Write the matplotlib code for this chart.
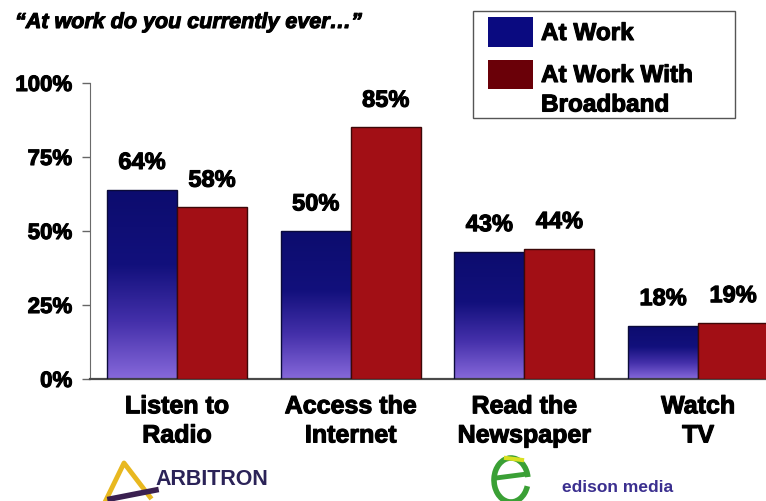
import numpy as np
import matplotlib
matplotlib.use('Agg')
import matplotlib.pyplot as plt
import matplotlib.patheffects as pe
from matplotlib.colors import LinearSegmentedColormap
from matplotlib.patches import Rectangle, Arc
from matplotlib.lines import Line2D

plt.rcParams['font.family'] = ['Liberation Sans', 'DejaVu Sans']
plt.rcParams['font.weight'] = 'bold'

# data
title = '\u201cAt work do you currently ever\u2026\u201d'
categories = ['Listen to\nRadio', 'Access the\nInternet', 'Read the\nNewspaper', 'Watch\nTV']
at_work = [64, 50, 43, 18]
at_work_bb = [58, 85, 44, 19]
series_names = ['At Work', 'At Work With\nBroadband']
y_ticks = [0, 25, 50, 75, 100]
y_labels = ['0%', '25%', '50%', '75%', '100%']

W, H = 766, 501
heavy = [pe.withStroke(linewidth=0.8, foreground='black')]


def fx(px):
    return px / W


def fy(py):
    return 1 - py / H


fig = plt.figure(figsize=(7.66, 5.01), dpi=100)
ax = fig.add_axes([fx(90), fy(379), (766 - 90) / W, (379 - 83) / H])

x = np.arange(len(categories))
w = 0.403

blue_cmap = LinearSegmentedColormap.from_list(
    'bluebar', [(0, '#0c0c6e'), (0.4, '#12107c'), (0.7, '#4430aa'), (1, '#8668da')])
grad = np.linspace(0, 1, 200).reshape(-1, 1)

blue_bars = ax.bar(x - w / 2, at_work, w, facecolor='none',
                   edgecolor='#0b0b3a', linewidth=1, zorder=3)
red_bars = ax.bar(x + w / 2, at_work_bb, w, color='#a20f15',
                  edgecolor='#3d0808', linewidth=1, zorder=3)

for bar in blue_bars:
    x0, h = bar.get_x(), bar.get_height()
    im = ax.imshow(grad, extent=[x0, x0 + bar.get_width(), 0, h],
                   aspect='auto', cmap=blue_cmap, zorder=2.5)
    im.set_clip_path(bar)

# value labels
for bars, vals in [(blue_bars, at_work), (red_bars, at_work_bb)]:
    for bar, v in zip(bars, vals):
        ax.annotate(f'{v}%', (bar.get_x() + bar.get_width() / 2, v),
                    xytext=(0, 19.5), textcoords='offset points',
                    ha='center', va='center', fontsize=17, fontweight='bold',
                    path_effects=heavy)

ax.set_xticks(x, categories)
ax.tick_params(axis='x', length=0, pad=11, labelsize=18)
for lab in ax.get_xticklabels():
    lab.set_linespacing(1.27)
    lab.set_path_effects(heavy)

ax.set_yticks(y_ticks, y_labels)
ax.tick_params(axis='y', length=5.8, width=1, color='#666666', pad=7, labelsize=16)
for lab in ax.get_yticklabels():
    lab.set_path_effects(heavy)

for s in ['top', 'right']:
    ax.spines[s].set_visible(False)
ax.spines['left'].set_color('#6a6a6a')
ax.spines['bottom'].set_color('#4a4a4a')
ax.spines['bottom'].set_linewidth(1.6)

ax.set_xlim(-0.501, 3.391)
ax.set_ylim(0, 100)

# title
fig.text(fx(15), fy(12), title, ha='left', va='top', fontsize=15.5,
         fontweight='bold', fontstyle='italic', path_effects=heavy)

# legend
fig.patches.append(Rectangle((fx(473), fy(118)), fx(735) - fx(473), fy(11) - fy(118),
                             transform=fig.transFigure, facecolor='white',
                             edgecolor='#555555', linewidth=1))
fig.patches.append(Rectangle((fx(488), fy(47)), fx(533) - fx(488), fy(17) - fy(47),
                             transform=fig.transFigure, facecolor='#0a0a80',
                             edgecolor='none'))
fig.patches.append(Rectangle((fx(488), fy(89)), fx(533) - fx(488), fy(60) - fy(89),
                             transform=fig.transFigure, facecolor='#6a0008',
                             edgecolor='none'))
fig.text(fx(541), fy(22), series_names[0], ha='left', va='top', fontsize=17.5,
         path_effects=heavy)
fig.text(fx(541), fy(64), series_names[1], ha='left', va='top', fontsize=17.5,
         linespacing=1.36, path_effects=heavy)

# logos
fig.add_artist(Line2D([fx(106), fx(124), fx(150)], [fy(500), fy(463), fy(497)],
                      transform=fig.transFigure, color='#e8b820', linewidth=3.5,
                      solid_joinstyle='round'))
fig.add_artist(Line2D([fx(110), fx(156)], [fy(499), fy(490)],
                      transform=fig.transFigure, color='#3a2050', linewidth=4))
fig.text(fx(155), fy(485), 'ARBITRON', ha='left', va='baseline', fontsize=15.5,
         color='#2b2358')

fig.add_artist(Arc((fx(511), fy(480)), fx(34), 44 / H,
                   theta1=15, theta2=330, transform=fig.transFigure,
                   color='#3aa035', linewidth=4))
fig.add_artist(Line2D([fx(496), fx(527)], [fy(478), fy(474)],
                      transform=fig.transFigure, color='#3aa035', linewidth=3.5))
fig.add_artist(Line2D([fx(506), fx(522)], [fy(458), fy(460)],
                      transform=fig.transFigure, color='#d8e020', linewidth=3))
fig.text(fx(562), fy(492), 'edison media', ha='left', va='baseline', fontsize=12.5,
         color='#3b2f8f')

fig.savefig('out.png', dpi=100)
